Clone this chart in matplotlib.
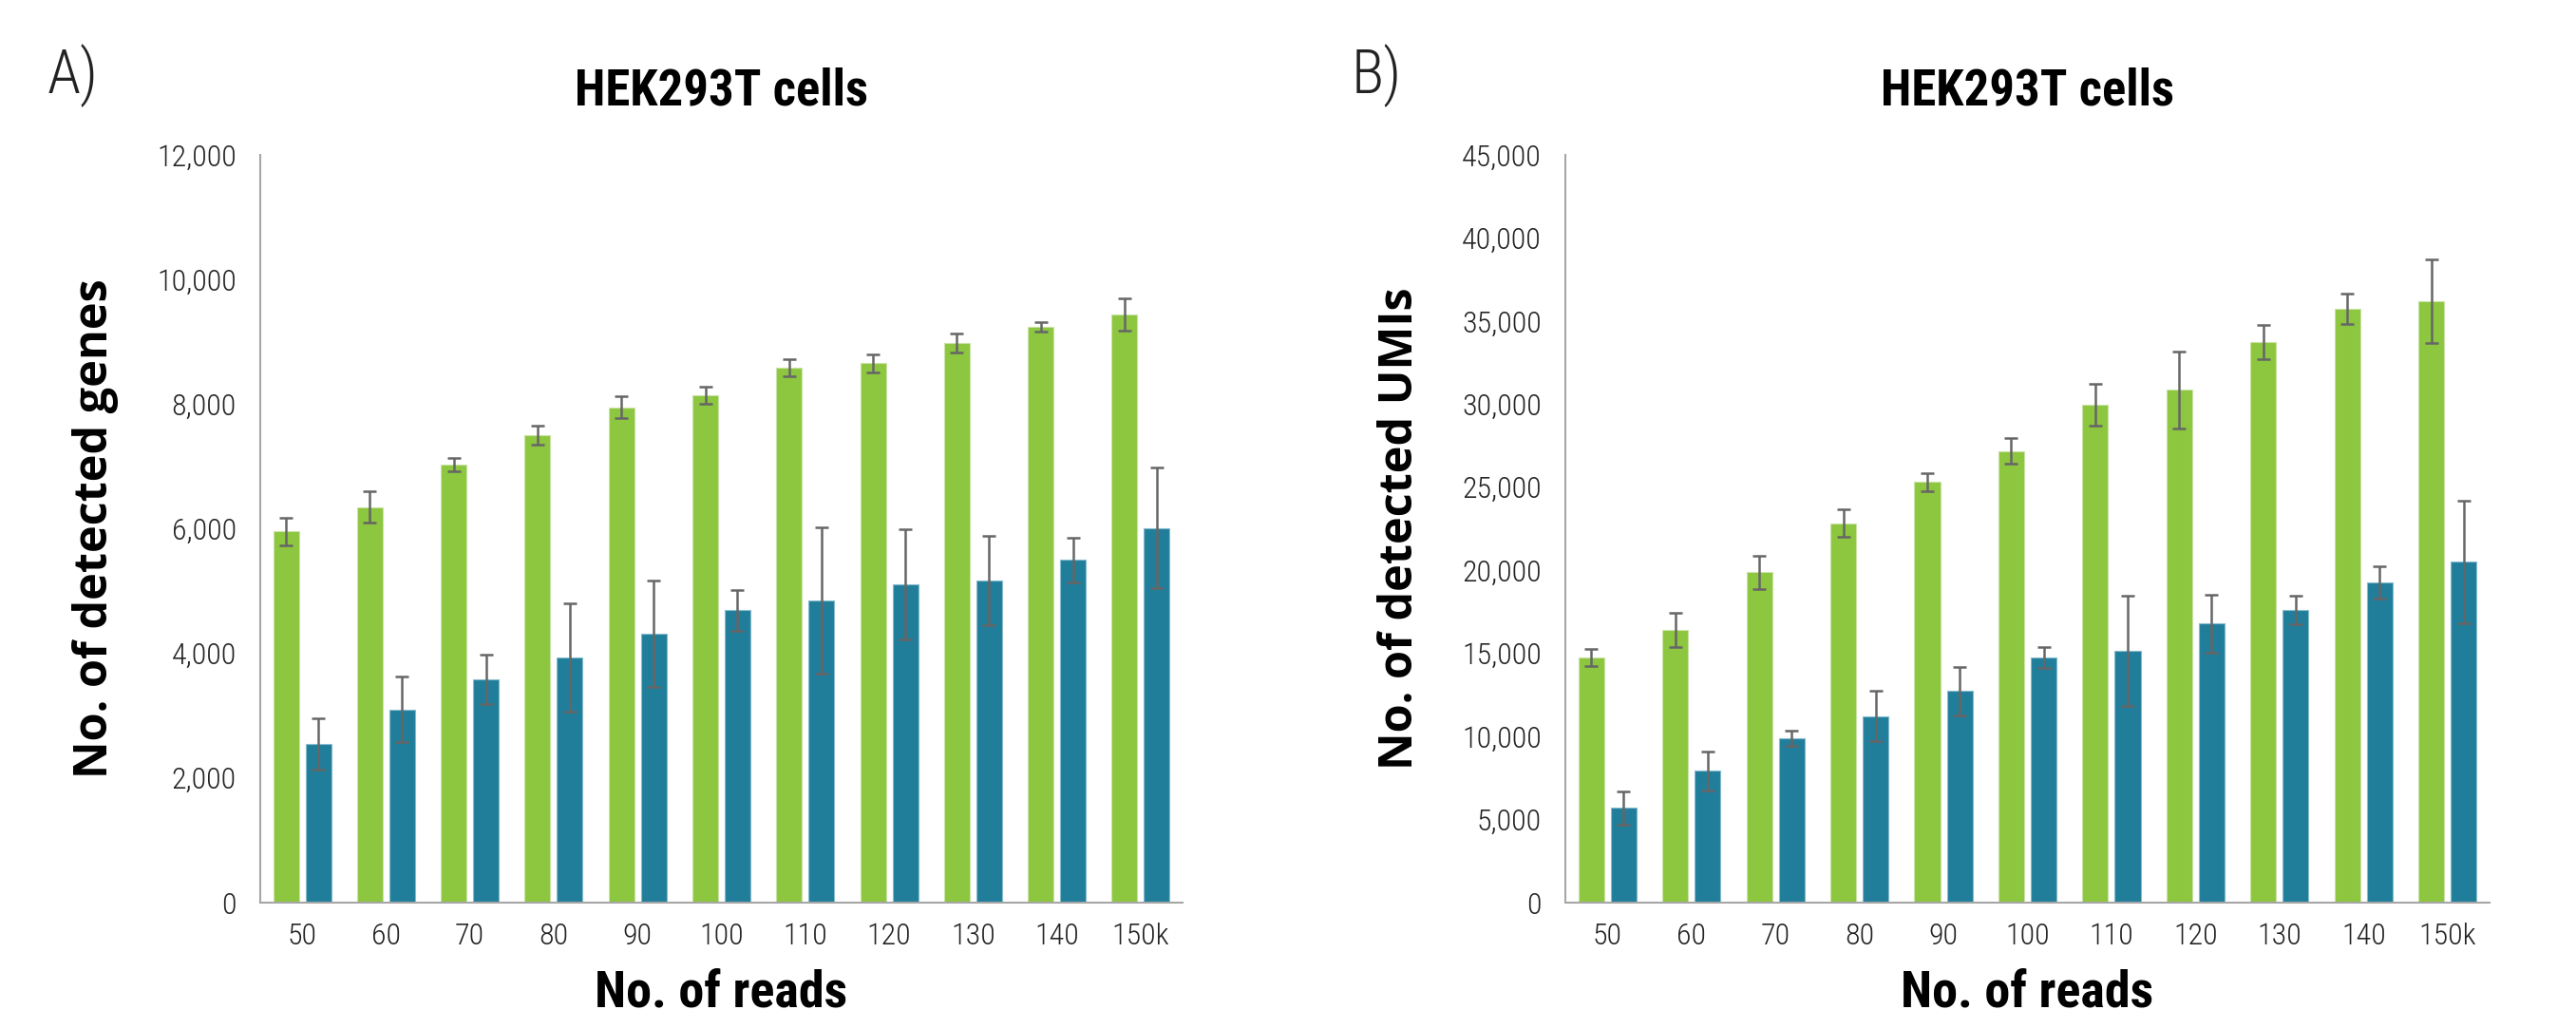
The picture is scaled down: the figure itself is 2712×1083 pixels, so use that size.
import matplotlib
matplotlib.use("Agg")
import matplotlib.pyplot as plt
from matplotlib import font_manager
import numpy as np
from matplotlib.ticker import FuncFormatter

# ---- data ----
reads = ["50", "60", "70", "80", "90", "100", "110", "120", "130", "140", "150k"]

genes_green = [5960, 6350, 7030, 7500, 7950, 8140, 8580, 8660, 8980, 9240, 9440]
genes_green_err = [220, 245, 110, 150, 180, 140, 135, 145, 150, 80, 255]
genes_blue = [2550, 3100, 3580, 3930, 4320, 4690, 4850, 5110, 5170, 5500, 6010]
genes_blue_err = [415, 530, 395, 870, 855, 330, 1170, 890, 720, 360, 970]

umis_green = [14740, 16400, 19870, 22830, 25320, 27180, 29960, 30860, 33740, 35730, 36190]
umis_green_err = [510, 1040, 1020, 830, 550, 790, 1250, 2300, 1020, 920, 2540]
umis_blue = [5700, 7920, 9890, 11230, 12730, 14740, 15130, 16790, 17620, 19280, 20500]
umis_blue_err = [1000, 1200, 470, 1500, 1460, 630, 3320, 1760, 860, 970, 3690]

panel_letters = ["A)", "B)"]
titles = ["HEK293T cells", "HEK293T cells"]
ylabels = ["No. of detected genes", "No. of detected UMIs"]
xlabel = "No. of reads"
ymax = [12000, 45000]
ystep = [2000, 5000]

# ---- fonts ----
installed = {f.name for f in font_manager.fontManager.ttflist}


def pick(cands):
    for c in cands:
        if c in installed:
            return [c, "DejaVu Sans"]
    return ["DejaVu Sans"]


NARROW = pick(["Liberation Sans Narrow", "Roboto Condensed", "Open Sans Condensed",
               "Noto Sans Condensed", "Lato", "Roboto"])
LIGHT = pick(["Liberation Sans Narrow", "Roboto Condensed", "Lato", "Roboto", "Open Sans"])
BOLDF = pick(["Open Sans", "Noto Sans", "DejaVu Sans"])

# ---- style ----
GREEN = "#8DC63F"
BLUE = "#217E9B"
GREEN_EDGE = "#C9E3A6"
BLUE_EDGE = "#86BBCD"
ERR = "#666666"
SPINE = "#A6A6A6"

W, H = 2712, 1083
fig = plt.figure(figsize=(W / 100, H / 100), dpi=100)

ax_px = [(274, 971), (1648, 973)]
top_px, bot_px = 163, 950

datasets = [
    (genes_green, genes_green_err, genes_blue, genes_blue_err),
    (umis_green, umis_green_err, umis_blue, umis_blue_err),
]
letter_x = [50, 1423]

for i, (left, width) in enumerate(ax_px):
    ax = fig.add_axes([left / W, (H - bot_px) / H, width / W, (bot_px - top_px) / H])
    g, ge, b, be = datasets[i]
    x = np.arange(len(reads))
    off = 0.1925
    bw = 0.306
    ekw = dict(ecolor=ERR, elinewidth=1.8, capsize=5, capthick=1.8)
    ax.bar(x - off, g, bw, color=GREEN, edgecolor=GREEN_EDGE, linewidth=0.8,
           yerr=ge, error_kw=ekw, zorder=2)
    ax.bar(x + off, b, bw, color=BLUE, edgecolor=BLUE_EDGE, linewidth=0.8,
           yerr=be, error_kw=ekw, zorder=2)
    ax.set_xlim(-0.5, len(reads) - 0.5)
    ax.set_ylim(0, ymax[i])
    ax.set_yticks(np.arange(0, ymax[i] + 1, ystep[i]))
    ax.yaxis.set_major_formatter(FuncFormatter(lambda v, p: f"{int(v):,}"))
    ax.set_xticks(x)
    ax.set_xticklabels(reads)
    for s in ["top", "right"]:
        ax.spines[s].set_visible(False)
    for s in ["left", "bottom"]:
        ax.spines[s].set_color(SPINE)
        ax.spines[s].set_linewidth(1.5)
    ax.tick_params(axis="y", length=0, pad=18, labelsize=23, labelcolor="#222222")
    ax.tick_params(axis="x", length=0, pad=15, labelsize=23, labelcolor="#222222")
    for lab in ax.get_xticklabels() + ax.get_yticklabels():
        lab.set_family(LIGHT)
        lab.set_fontweight("light")

    ax.set_title(titles[i], y=(bot_px - 110) / (bot_px - top_px), pad=0,
                 va="baseline", fontsize=38, fontweight="bold", family=NARROW)
    ax.set_xlabel(xlabel, fontsize=39, fontweight="bold", family=NARROW)
    ax.xaxis.set_label_coords(0.5, (bot_px - 1060) / (bot_px - top_px))
    ax.xaxis.label.set_va("baseline")
    ax.set_ylabel(ylabels[i], fontsize=35, fontweight="bold", family=BOLDF)
    base_x = 113 if i == 0 else 1487
    ax.yaxis.set_label_coords((base_x - left) / width, 0.5)
    ax.yaxis.label.set_va("baseline")

    fig.text(letter_x[i] / W, 1 - 98 / H, panel_letters[i], fontsize=46,
             family=LIGHT, fontweight="light", color="#222222",
             va="baseline", ha="left")

fig.savefig("out.png", dpi=100, facecolor="white")
